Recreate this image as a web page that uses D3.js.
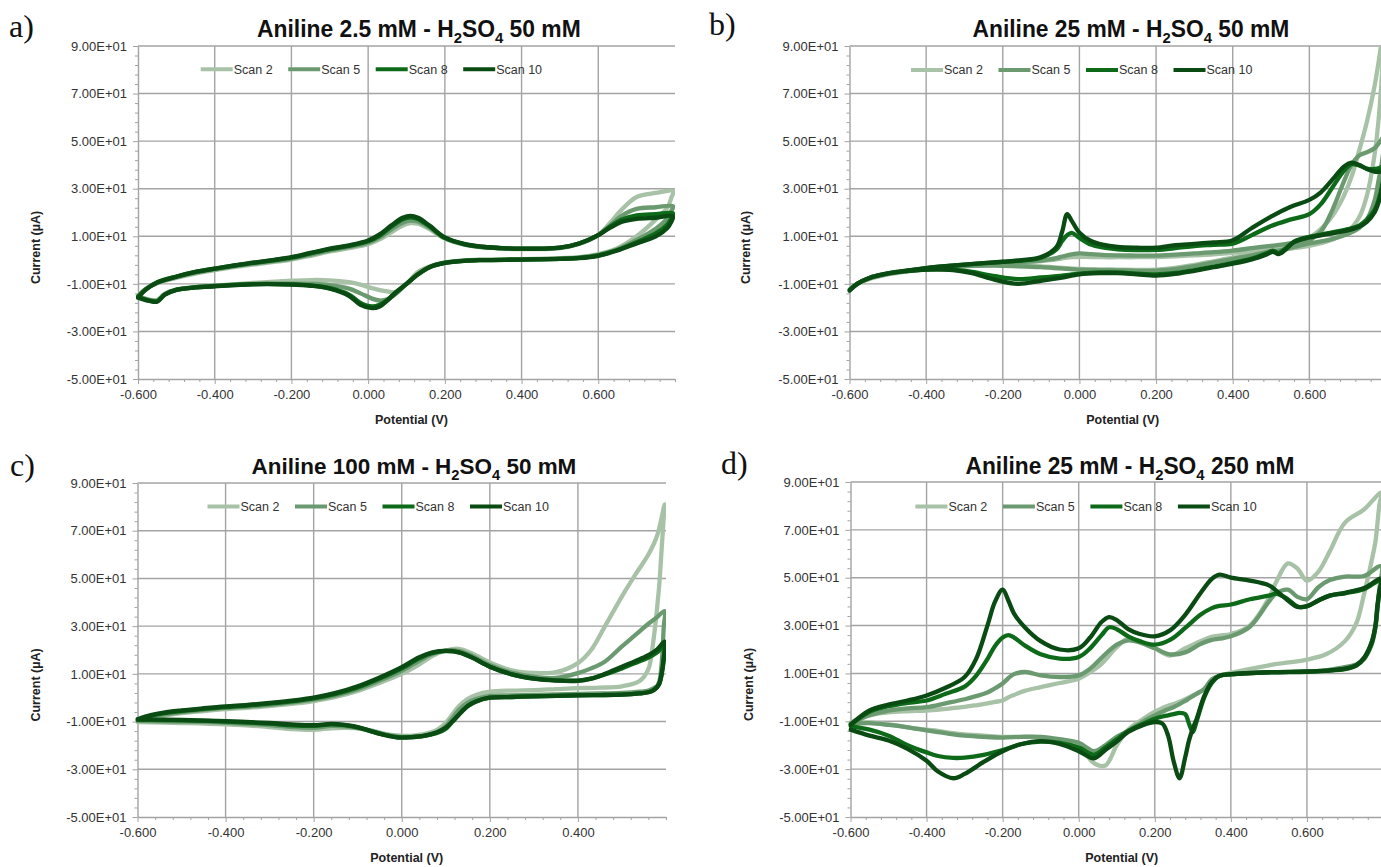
<!DOCTYPE html>
<html><head><meta charset="utf-8">
<script src="https://cdn.jsdelivr.net/npm/d3@7"></script>
<style>body{margin:0;background:#fff}svg{display:block}</style>
</head><body>
<svg id="chart" width="1381" height="867"></svg>
<script>
// ---------- shared labels ----------
const scanNames = ["Scan 2", "Scan 5", "Scan 8", "Scan 10"];
const scanColors = ["#a8c2a7", "#6b9a70", "#0d6a19", "#0a4b13"];
const yTickValues = [-50, -30, -10, 10, 30, 50, 70, 90];
const yTickLabels = ["-5.00E+01", "-3.00E+01", "-1.00E+01", "1.00E+01", "3.00E+01", "5.00E+01", "7.00E+01", "9.00E+01"];
const xTickValuesWide = [-0.6, -0.4, -0.2, 0, 0.2, 0.4, 0.6];
const xTickLabelsWide = ["-0.600", "-0.400", "-0.200", "0.000", "0.200", "0.400", "0.600"];
const xTickValuesNarrow = [-0.6, -0.4, -0.2, 0, 0.2, 0.4];
const xTickLabelsNarrow = ["-0.600", "-0.400", "-0.200", "0.000", "0.200", "0.400"];
const xAxisTitle = "Potential (V)";
const yAxisTitle = "Current (µA)";

// ---------- panel a : Aniline 2.5 mM - H2SO4 50 mM ----------
const aFwdE = [-0.6,-0.58,-0.55,-0.5,-0.45,-0.4,-0.35,-0.3,-0.25,-0.2,-0.15,-0.1,-0.05,0,0.03,0.06,0.09,0.11,0.13,0.16,0.2,0.25,0.3,0.35,0.4,0.45,0.5,0.55,0.6,0.63,0.66,0.7,0.75,0.795];
const aFwd2  = [-15,-12.2,-9.7,-7.5,-5.7,-4.3,-3,-1.9,-0.9,0.2,1.8,3.6,5,6.7,8.7,11.6,14.5,15.5,15.3,13,9,6.5,5.3,4.8,4.6,4.6,5,6.8,10.5,15.5,21,26.5,28.2,29];
const aFwd5  = [-15.2,-12.2,-9.5,-7.2,-5.3,-3.9,-2.6,-1.5,-0.5,0.6,2.3,4.1,5.5,7.3,9.5,12.8,15.7,16.6,16.2,13.6,9.2,6.6,5.4,4.9,4.7,4.7,5.1,6.9,10.5,14.5,18.5,21.5,22.2,22.6];
const aFwd8  = [-15.5,-12.3,-9.3,-6.9,-5,-3.6,-2.3,-1.2,-0.1,1,2.8,4.6,6,7.9,10.3,14,17.2,18,17.3,14.2,9.3,6.7,5.5,5,4.8,4.8,5.2,7,10.5,14,17,18.8,19.3,19.6];
const aFwd10 = [-15.8,-12.5,-9.5,-7,-5,-3.6,-2.2,-1.1,0,1.2,3,4.8,6.2,8.2,10.8,14.5,17.8,18.6,17.8,14.5,9.5,6.8,5.6,5,4.8,4.8,5.2,7,10.5,13.5,16,17.3,17.8,18.4];
const aRevE  = [0.79,0.78,0.75,0.7,0.65,0.6,0.55,0.5,0.4,0.3,0.25,0.2,0.16,0.13,0.1,0.07,0.05,0.03,0.01,-0.02,-0.05,-0.1,-0.15,-0.2,-0.3,-0.4,-0.45,-0.5,-0.53,-0.55,-0.57,-0.6];
const aRev2  = [26,22,17,10,5,2.5,1.2,0.8,0.4,0.2,-0.1,-1,-2.7,-5,-10,-13.5,-13.2,-12.6,-11.8,-10.3,-9.3,-8.5,-8.4,-8.7,-9.6,-10.8,-11.4,-12.4,-14.2,-16.8,-16.6,-15];
const aRev5  = [20.5,17.5,13.2,8.5,4.5,2.2,1,0.6,0.3,0.1,-0.2,-1.1,-2.9,-5.8,-10,-14.5,-16.5,-17,-16.2,-14,-12,-10.5,-10,-9.9,-10,-10.8,-11.4,-12.4,-14.3,-17,-16.8,-15.2];
const aRev8  = [17.5,15,11.2,7.5,4.2,2,0.9,0.5,0.2,0,-0.3,-1.2,-3,-6,-10,-13.8,-16.8,-18.8,-19.5,-18,-14.5,-11.8,-10.6,-10.2,-10.1,-10.9,-11.5,-12.5,-14.5,-17.3,-17,-15.5];
const aRev10 = [16,13.5,10,7,4,1.8,0.8,0.5,0.2,0,-0.3,-1.2,-3,-6,-10,-14,-17,-19.5,-20.2,-18.8,-15,-12,-10.8,-10.3,-10.2,-11,-11.5,-12.5,-14.5,-17.5,-17.2,-15.8];

// ---------- panel b : Aniline 25 mM - H2SO4 50 mM ----------
const bFwdE = [-0.6,-0.58,-0.55,-0.5,-0.45,-0.4,-0.35,-0.3,-0.25,-0.2,-0.15,-0.1,-0.06,-0.045,-0.032,-0.02,0,0.03,0.06,0.1,0.15,0.2,0.25,0.3,0.35,0.4,0.45,0.5,0.55,0.6,0.63,0.66,0.69,0.71,0.73,0.75,0.77,0.785,0.795];
const bFwd2  = [-12.3,-10,-8,-6,-4.8,-3.8,-3.1,-2.5,-2,-1.5,-1,-0.4,0.3,0.7,1,1.2,1.4,1.3,1.2,1.2,1.2,1.3,1.6,2,2.4,3,3.8,5,6.5,9.5,13,18.5,27,35,46,58,73,88,100];
const bFwd5  = [-12.5,-10,-7.8,-5.8,-4.6,-3.6,-2.9,-2.3,-1.8,-1.3,-0.8,-0.2,0.8,1.5,2,2.4,2.8,2.5,2.2,2,1.9,1.9,2.3,2.8,3.3,4,5,6,7,8.5,12,21,33,40,44,45.3,47,50,52];
const bFwd8  = [-12.8,-10,-7.6,-5.6,-4.4,-3.4,-2.6,-1.9,-1.3,-0.8,-0.2,1,4.5,8,10.5,11.4,9.3,6.5,5.3,4.5,4.2,4.3,5,5.9,6.4,6.9,10.5,14.3,17,19.3,23.5,30.5,37.5,40.3,39.8,38.5,38.3,38.8,39.5];
const bFwd10 = [-12.8,-10,-7.6,-5.6,-4.4,-3.4,-2.6,-1.9,-1.3,-0.7,0,1.3,5.5,12,19.3,16.5,11.5,8,6.5,5.5,5.2,5.2,6.3,6.8,7.4,8.3,13.5,18.3,22.3,25.3,28.5,33.8,39.3,41,40,38.3,37.2,37.2,37.5];
const bRevE = [0.79,0.78,0.77,0.75,0.73,0.7,0.65,0.6,0.56,0.535,0.52,0.505,0.49,0.45,0.4,0.35,0.3,0.25,0.2,0.15,0.1,0.05,0,-0.05,-0.1,-0.16,-0.22,-0.28,-0.33,-0.4,-0.45,-0.5,-0.55,-0.58,-0.6];
const bRev2  = [80,58,44,27,18,12,8,6,5,4.4,4,3.8,3.5,2.3,1,-0.5,-2,-3.3,-4,-4.1,-4,-3.9,-3.7,-3.2,-2.7,-2.3,-2.1,-2.3,-2.7,-3.8,-4.7,-6,-8,-10,-12.3];
const bRev5  = [42,33,25,17,13.5,11,8.5,7,5.5,4.5,4,3.8,3.5,2,0.5,-1,-2.5,-3.8,-4.4,-4.5,-4.3,-4.2,-4,-3.5,-3,-2.6,-2.3,-2.4,-2.8,-3.8,-4.6,-5.8,-7.8,-10,-12.5];
const bRev8  = [32,25,21,17,14.5,13,11.3,9.8,7.8,4.5,3,4,3,0.6,-1.2,-2.8,-4.2,-5.4,-6,-5.7,-5.2,-5.2,-5.7,-6.6,-7.3,-8,-6.8,-5,-4,-4,-4.6,-5.6,-7.6,-10,-12.8];
const bRev10 = [30,24,20,16,14,12.5,11,9.5,7.5,4,2.5,3.5,2.5,0.3,-1.5,-3,-4.5,-5.8,-6.5,-6,-5.5,-5.5,-6,-7.5,-8.7,-10,-8.3,-5.5,-4.2,-4,-4.6,-5.6,-7.6,-10,-12.8];

// ---------- panel c : Aniline 100 mM - H2SO4 50 mM ----------
const cFwdE = [-0.6,-0.57,-0.54,-0.5,-0.45,-0.4,-0.35,-0.3,-0.25,-0.2,-0.15,-0.1,-0.05,0,0.04,0.07,0.1,0.13,0.16,0.2,0.25,0.3,0.35,0.4,0.43,0.46,0.5,0.53,0.56,0.58,0.597];
const cFwd2  = [-10.2,-8.5,-7.5,-6.5,-5.6,-4.8,-4.2,-3.5,-2.6,-1.4,0.3,2.8,6.2,10,14,17.5,19.8,20.5,18.5,14.8,11.5,10.4,10.7,14.5,20,29.5,42.5,51.5,60,68,81];
const cFwd5  = [-9.7,-8,-7,-6,-5.1,-4.3,-3.7,-3,-2,-0.8,1,3.6,7.2,11.3,15.5,18.3,19.8,19.6,17.5,13.7,10.5,8.8,8.3,10.3,12.3,15,21.5,26.2,31,33.8,36.3];
const cFwd8  = [-9.3,-7.6,-6.5,-5.6,-4.7,-3.9,-3.3,-2.5,-1.5,-0.3,1.6,4.3,8,12.3,16.5,18.8,19.5,19,16.8,13,9.8,8,7.3,7.2,8,9.6,12.3,14.5,16.8,19,22];
const cFwd10 = [-9,-7.3,-6.2,-5.3,-4.4,-3.6,-3,-2.2,-1.2,0,2,4.8,8.5,12.8,17,19,19.6,19,16.8,13,9.8,8,7.2,7.1,8,9.9,13,15.3,17.8,20.3,23.5];
const cRevE = [0.595,0.59,0.585,0.58,0.57,0.56,0.54,0.5,0.45,0.4,0.35,0.3,0.25,0.2,0.17,0.15,0.13,0.115,0.1,0.08,0.05,0.02,-0.01,-0.04,-0.07,-0.1,-0.13,-0.16,-0.2,-0.25,-0.3,-0.4,-0.5,-0.6];
const cRev2  = [76,62,48,38,22,12,7,4.8,4.2,4,3.6,3.2,3,2.5,1.2,-0.5,-3.5,-7,-10.5,-13.5,-15.3,-16,-15.8,-15,-13.7,-12.8,-12.6,-12.8,-13.5,-13.2,-12.3,-11.2,-10.6,-10.2];
const cRev5  = [30,14,7,5,3.8,3,2.5,2,1.8,1.6,1.4,1.2,1,0.8,-0.5,-2,-5,-8.5,-12,-14.5,-16,-16.4,-16.3,-15.4,-14,-12.7,-12,-11.8,-12.6,-12.3,-11.5,-10.5,-10,-9.7];
const cRev8  = [16,9.5,6,4.5,3,2.3,1.8,1.3,1.1,1,0.8,0.6,0.3,0,-1.5,-3.5,-7,-10,-13,-14.8,-16,-16.5,-16.5,-15.5,-14,-12.4,-11.5,-11.2,-11.8,-11.6,-10.9,-10,-9.5,-9.2];
const cRev10 = [17,10,6,4.5,3,2.3,1.8,1.3,1.1,1,0.8,0.6,0.3,0,-1.5,-3.5,-7,-10,-12.5,-14.5,-16,-16.6,-16.7,-15.6,-14,-12.3,-11.4,-11,-11.5,-11.2,-10.6,-9.8,-9.3,-9];

// ---------- panel d : Aniline 25 mM - H2SO4 250 mM ----------
const dFwdE = [-0.6,-0.55,-0.5,-0.45,-0.4,-0.35,-0.3,-0.27,-0.24,-0.22,-0.2,-0.185,-0.17,-0.14,-0.1,-0.05,0,0.03,0.06,0.08,0.1,0.13,0.16,0.2,0.24,0.28,0.32,0.35,0.37,0.4,0.45,0.5,0.52,0.55,0.575,0.6,0.63,0.66,0.7,0.75,0.795];
const dFwd2  = [-10.5,-7.5,-6.3,-5.8,-5.5,-4.8,-4,-3.3,-2.5,-1.9,-1.3,0,1,2.8,4.3,6,7.8,10.5,14,17.5,21,24.5,23,20.5,17.5,20.5,23.5,25.3,25.8,26.5,30,41.5,48.5,56,53.8,48.8,52.5,61,73,78.5,85.5];
const dFwd5  = [-11,-7.5,-5.5,-4.6,-4.1,-2.5,-0.8,0.5,2,3.8,5.8,8,9.7,10.6,9.2,8.5,9.2,12,16.5,19.5,22,23.8,23,20.5,18,18.8,22.3,24,24.5,25.5,29.5,40,43.5,45,42,41,46,49,50.5,50.7,54.8];
const dFwd8  = [-11.5,-6,-3.7,-2.3,-1.3,1.5,4.5,9,16,21.5,25,26,25,21.5,18,16.2,16.9,20.5,26,29.3,28.5,25.5,23.5,22,24,29,34.5,37.3,38.2,38.8,41,42.5,43.3,41,38,38,40.5,42.5,43.5,45.2,49];
const dFwd10 = [-11.5,-5.5,-3,-1.3,0.8,4,8.5,16,30,40,45,40.5,35,29,23.5,20,20.5,25,31.5,33.5,32.3,28.5,26.5,25.5,28,34.5,43.5,49.5,51.3,50,48.8,46.8,44.5,40.5,37.8,38.1,40.5,42.5,43.7,45.7,49.5];
const dRevE = [0.79,0.785,0.78,0.77,0.75,0.73,0.7,0.65,0.6,0.5,0.4,0.37,0.35,0.33,0.31,0.3,0.29,0.28,0.265,0.25,0.235,0.22,0.2,0.17,0.13,0.1,0.07,0.04,0,-0.05,-0.1,-0.15,-0.2,-0.25,-0.3,-0.33,-0.37,-0.4,-0.45,-0.5,-0.55,-0.6];
const dRev2  = [80,72,65,57,43,31,23.5,18,15.8,13.4,10.2,9,7.5,3.5,1.5,0.8,0,-0.8,-1.8,-2.8,-3.5,-4.5,-6,-9,-13.5,-20,-28.5,-27.5,-20,-18,-16.8,-16.5,-16.5,-16,-15.5,-15,-14,-13.5,-12.5,-11.3,-10.5,-10.5];
const dRev5  = [45,36,29,22,16,13.8,12.6,11.3,10.8,10.5,9.6,9,7.5,3.5,1.5,0.5,-0.5,-1.5,-2.8,-4,-5,-6,-7.5,-10,-14,-16.5,-20,-22.5,-19,-17.5,-16.5,-16.5,-16.8,-16.5,-16,-15.5,-14.5,-13.8,-12.5,-11.5,-10.8,-11];
const dRev8  = [43.5,37,29.5,22.5,16.2,13.3,11.8,11.1,10.7,10.4,9.6,9,6,0,-10,-14.5,-11,-7,-6.5,-7,-7.5,-8,-9,-11,-14,-17.5,-21,-24,-21,-19,-18.5,-19.5,-22,-24,-25.2,-25.3,-24.5,-23,-20,-16,-13.5,-12];
const dRev10 = [44,38,30,23,16.5,13.5,12,11.2,10.8,10.5,9.7,9,6.5,0.5,-9,-13,-18,-25,-33.8,-27,-16,-11,-10.3,-11.5,-14.5,-18.5,-22,-25.5,-22.5,-19.5,-18.3,-19.5,-22.5,-27,-32,-33.8,-31,-26.5,-21.5,-18,-16,-13.5];

// ---------- layout ----------
const panels = [
  {key:"a", letter:"a)", aniline:"2.5", acid:"50", l:138, r:675, t:46, b:379, xMax:0.8,
   xt:xTickValuesWide, xl:xTickLabelsWide, fwdE:aFwdE, revE:aRevE,
   fwd:[aFwd2,aFwd5,aFwd8,aFwd10], rev:[aRev2,aRev5,aRev8,aRev10],
   letterX:9, letterY:37, titleCx:419, titleW:324, titleY:37, legX:200.7, legY:69.3, yTitleX:36},
  {key:"b", letter:"b)", aniline:"25", acid:"50", l:849.5, r:1386, t:46, b:379, xMax:0.8,
   xt:xTickValuesWide, xl:xTickLabelsWide, fwdE:bFwdE, revE:bRevE,
   fwd:[bFwd2,bFwd5,bFwd8,bFwd10], rev:[bRev2,bRev5,bRev8,bRev10],
   letterX:709, letterY:35, titleCx:1131, titleW:317, titleY:37, legX:911, legY:70, yTitleX:746},
  {key:"c", letter:"c)", aniline:"100", acid:"50", l:137.5, r:666, t:483, b:817, xMax:0.6,
   xt:xTickValuesNarrow, xl:xTickLabelsNarrow, fwdE:cFwdE, revE:cRevE,
   fwd:[cFwd2,cFwd5,cFwd8,cFwd10], rev:[cRev2,cRev5,cRev8,cRev10],
   letterX:10, letterY:476, titleCx:414, titleW:325, titleY:474, legX:207.5, legY:506.5, yTitleX:36},
  {key:"d", letter:"d)", aniline:"25", acid:"250", l:850.5, r:1383, t:482, b:817, xMax:0.8,
   xt:xTickValuesWide, xl:xTickLabelsWide, fwdE:dFwdE, revE:dRevE,
   fwd:[dFwd2,dFwd5,dFwd8,dFwd10], rev:[dRev2,dRev5,dRev8,dRev10],
   letterX:721, letterY:474, titleCx:1130, titleW:329, titleY:474, legX:915.4, legY:506.5, yTitleX:749}
];

const svg = d3.select("#chart");
const defs = svg.append("defs");
const gridColor = "#a3a3a3";
const sans = "'Liberation Sans', Arial, sans-serif";

panels.forEach(p => {
  const x = d3.scaleLinear().domain([-0.6, p.xMax]).range([p.l, p.r]);
  const y = d3.scaleLinear().domain([-50, 90]).range([p.b, p.t]);
  const g = svg.append("g");

  defs.append("clipPath").attr("id", "clip-" + p.key)
    .append("rect").attr("x", p.l - 2).attr("y", p.t).attr("width", p.r - p.l + 2).attr("height", p.b - p.t);

  // gridlines
  g.append("g").selectAll("line").data(yTickValues.filter(v => v > -50)).join("line")
    .attr("x1", p.l).attr("x2", p.r).attr("y1", d => y(d)).attr("y2", d => y(d))
    .attr("stroke", gridColor).attr("stroke-width", 1.4);
  g.append("g").selectAll("line").data(p.xt.filter(v => v > -0.6)).join("line")
    .attr("x1", d => x(d)).attr("x2", d => x(d)).attr("y1", p.t).attr("y2", p.b)
    .attr("stroke", gridColor).attr("stroke-width", 1.4);

  // minor ticks
  const yMinor = d3.range(-50, 90.001, 4).filter(v => !yTickValues.includes(v));
  const xMinor = d3.range(0, Math.round((p.xMax + 0.6) / 0.04) + 1).map(k => -0.6 + k * 0.04)
                   .filter(v => v <= p.xMax + 1e-9 && p.xt.every(t => Math.abs(t - v) > 1e-6));
  g.append("g").attr("transform", `translate(${p.l},0)`)
    .call(d3.axisLeft(y).tickValues(yMinor).tickFormat("").tickSize(3).tickSizeOuter(0))
    .call(s => s.select(".domain").remove())
    .call(s => s.selectAll("line").attr("stroke", gridColor));
  g.append("g").attr("transform", `translate(0,${p.b})`)
    .call(d3.axisBottom(x).tickValues(xMinor).tickFormat("").tickSize(3).tickSizeOuter(0))
    .call(s => s.select(".domain").remove())
    .call(s => s.selectAll("line").attr("stroke", gridColor));

  // major axes
  g.append("g").attr("transform", `translate(${p.l},0)`)
    .call(d3.axisLeft(y).tickValues(yTickValues).tickFormat((d, i) => yTickLabels[i]).tickSize(5).tickSizeOuter(0).tickPadding(6))
    .call(s => s.select(".domain").attr("stroke", gridColor).attr("stroke-width", 1.4))
    .call(s => s.selectAll("line").attr("stroke", gridColor))
    .call(s => s.selectAll("text").attr("font-family", sans).attr("font-size", 13).attr("fill", "#333"));
  g.append("g").attr("transform", `translate(0,${p.b})`)
    .call(d3.axisBottom(x).tickValues(p.xt).tickFormat((d, i) => p.xl[i]).tickSize(5).tickSizeOuter(0).tickPadding(6))
    .call(s => s.select(".domain").attr("stroke", gridColor).attr("stroke-width", 1.4))
    .call(s => s.selectAll("line").attr("stroke", gridColor))
    .call(s => s.selectAll("text").attr("font-family", sans).attr("font-size", 13).attr("fill", "#333"));

  // curves
  const line = d3.line().x(d => x(d[0])).y(d => y(d[1])).curve(d3.curveCatmullRom.alpha(0.5));
  const cg = g.append("g").attr("clip-path", `url(#clip-${p.key})`);
  p.fwd.forEach((fw, i) => {
    const pts = p.fwdE.map((e, j) => [e, fw[j]]).concat(p.revE.map((e, j) => [e, p.rev[i][j]]));
    cg.append("path").attr("d", line(pts)).attr("fill", "none")
      .attr("stroke", scanColors[i]).attr("stroke-width", 4.3)
      .attr("stroke-linejoin", "round").attr("stroke-linecap", "round");
  });

  // legend
  scanNames.forEach((n, i) => {
    const x0 = p.legX + i * 87.5;
    g.append("line").attr("x1", x0).attr("x2", x0 + 32).attr("y1", p.legY).attr("y2", p.legY)
      .attr("stroke", scanColors[i]).attr("stroke-width", 4);
    g.append("text").attr("x", x0 + 33).attr("y", p.legY).attr("dy", "0.35em")
      .attr("font-family", sans).attr("font-size", 12.5).attr("fill", "#333").text(n);
  });

  // axis titles
  g.append("text").attr("x", (p.l + Math.min(p.r, 1386)) / 2 + 5).attr("y", p.b + 45)
    .attr("text-anchor", "middle").attr("font-family", sans).attr("font-weight", "bold")
    .attr("font-size", 12.5).attr("fill", "#222").text(xAxisTitle);
  g.append("text").attr("transform", `translate(${p.yTitleX + 4},${(p.t + p.b) / 2 + 35}) rotate(-90)`)
    .attr("text-anchor", "middle").attr("font-family", sans).attr("font-weight", "bold")
    .attr("font-size", 12.5).attr("fill", "#222").text(yAxisTitle);

  // chart title with subscripts
  const tg = g.append("g");
  const tt = tg.append("text").attr("x", 0).attr("y", 0).attr("font-family", sans)
    .attr("font-weight", "bold").attr("font-size", 23).attr("fill", "#111");
  tt.append("tspan").text(`Aniline ${p.aniline} mM - H`);
  tt.append("tspan").attr("font-size", 15).attr("dy", 6).text("2");
  tt.append("tspan").attr("dy", -6).text("SO");
  tt.append("tspan").attr("font-size", 15).attr("dy", 6).text("4");
  tt.append("tspan").attr("dy", -6).text(` ${p.acid} mM`);
  const w = tt.node().getComputedTextLength();
  const s = p.titleW / w;
  tg.attr("transform", `translate(${p.titleCx - p.titleW / 2},${p.titleY}) scale(${s},1)`);

  // panel letter
  g.append("text").attr("x", p.letterX).attr("y", p.letterY)
    .attr("font-family", "'Liberation Serif', 'Times New Roman', serif")
    .attr("font-size", 32).attr("fill", "#111").text(p.letter);
});
</script>
</body></html>
